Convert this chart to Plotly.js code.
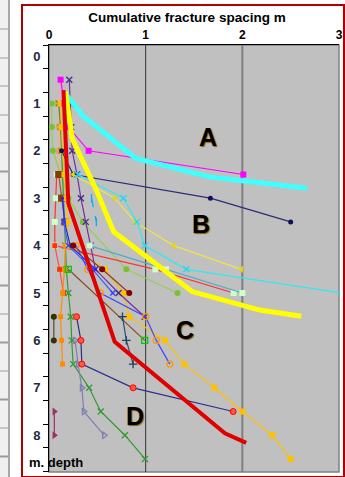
<!DOCTYPE html>
<html><head><meta charset="utf-8">
<script src="https://cdn.plot.ly/plotly-3.0.1.min.js"></script>
<style>
html,body{margin:0;padding:0;background:#fff;}
#wrap{position:relative;width:345px;height:477px;overflow:hidden;background:#fff;}
#sheet{position:absolute;left:0;top:0;width:8px;height:477px;background:repeating-linear-gradient(to bottom,#f0f0f0 0px,#f0f0f0 27px,#9c9c9c 27px,#9c9c9c 28.5px);background-position:0 1.5px;border-right:2px solid #a8a8a8;}
#frame{position:absolute;left:21px;top:4px;width:320px;height:470px;border:2px solid #b00000;background:#fff;}
#chart{position:absolute;left:0;top:0;width:345px;height:477px;}
</style></head>
<body>
<div id="wrap"><div id="sheet"></div><div id="frame"></div><div id="chart"></div></div>
<script>
// ---- data (x = cumulative fracture spacing m, d = depth m) ----
const xTickVals = [0, 1, 2, 3];
const xTickText = ['0', '1', '2', '3'];
const yTickVals = [0, 1, 2, 3, 4, 5, 6, 7, 8];
const yTickText = ['0', '1', '2', '3', '4', '5', '6', '7', '8'];

// thick envelope curves
const envA_x = [0.16, 0.36, 0.90, 1.66, 2.00, 2.67];
const envA_d = [0.77, 1.28, 2.16, 2.55, 2.63, 2.79];
const envB_x = [0.17, 0.24, 0.49, 0.67, 1.48, 2.18, 2.61];
const envB_d = [0.75, 1.74, 2.83, 3.71, 4.97, 5.36, 5.49];
const envC_x = [0.15, 0.20, 0.68, 1.82, 2.04];
const envC_d = [0.72, 3.11, 6.03, 7.96, 8.16];

// individual wells
const pink_x = [0.12, 0.11, 0.12, 0.13];
const pink_d = [0.5, 1.0, 1.5, 2.0];
const magenta_x = [0.12, 0.16, 0.20, 0.41, 2.01];
const magenta_d = [0.5, 1.0, 1.5, 2.0, 2.5];
const navy_x = [0.13, 0.25, 1.67, 2.50];
const navy_d = [2.0, 2.5, 3.0, 3.5];
const purple_x = [0.21, 0.22, 0.23, 0.24, 0.29, 0.33, 0.38, 0.43, 0.48, 0.72, 0.99];
const purple_d = [0.5, 1.0, 1.5, 2.0, 2.5, 3.0, 3.5, 4.0, 4.5, 5.0, 5.5];
const yellow_x = [0.25, 0.68, 0.89, 1.29, 1.99];
const yellow_d = [2.5, 3.0, 3.5, 4.0, 4.5];
const cyan_x = [0.30, 0.77, 0.91, 0.99, 1.42, 3.02];
const cyan_d = [2.5, 3.0, 3.5, 4.0, 4.5, 5.0];
const sky_x = [0.44, 0.49];
const sky_d = [3.0, 3.5];
const red_x = [0.08, 0.07, 0.06, 0.06, 1.10, 1.91];
const red_d = [2.5, 3.0, 3.5, 4.0, 4.5, 5.0];
const teal_x = [0.42, 1.21, 2.00];
const teal_d = [4.0, 4.5, 5.0];
const ygreen_x = [0.03, 0.03, 0.04, 0.12, 0.20, 0.35, 0.80, 1.33];
const ygreen_d = [1.0, 1.5, 2.0, 2.5, 3.0, 3.5, 4.5, 5.0];
const gold_x = [0.12, 0.13, 0.14, 0.16, 0.18, 0.19, 0.20, 0.58, 0.77, 0.83, 1.20, 1.40, 1.71, 2.00, 2.31, 2.50];
const gold_d = [1.0, 1.5, 2.0, 2.5, 3.0, 3.5, 4.0, 4.5, 5.0, 5.5, 6.0, 6.5, 7.0, 7.5, 8.0, 8.5];
const peach_x = [0.09, 0.10, 0.10, 0.11];
const peach_d = [1.0, 1.5, 2.0, 2.5];
const blueO_x = [0.28, 0.40, 0.53, 1.00, 1.11, 1.25];
const blueO_d = [4.0, 4.5, 5.0, 5.5, 6.0, 6.5];
const royal_x = [0.15, 0.20, 0.45, 0.66];
const royal_d = [3.5, 4.0, 4.5, 5.0];
const blue_x = [0.14, 0.16, 0.22, 0.48];
const blue_d = [3.0, 3.5, 4.0, 4.5];
const green_x = [0.10, 0.12, 0.13, 0.15, 0.17, 0.18, 0.20, 0.225, 0.235, 0.25, 0.415, 0.535, 0.785, 0.993];
const green_d = [1.0, 1.5, 2.0, 3.0, 4.0, 4.5, 5.0, 5.5, 6.0, 6.5, 7.0, 7.5, 8.0, 8.5];
const slate_x = [0.27, 0.30, 0.34, 0.36, 0.57];
const slate_d = [6.0, 6.5, 7.0, 7.5, 8.0];
const navyR_x = [0.285, 0.33, 0.34, 0.87, 1.905];
const navyR_d = [5.5, 6.0, 6.5, 7.0, 7.5];
const olive_x = [0.05, 0.05];
const olive_d = [5.5, 6.0];
const plum_x = [0.055, 0.055];
const plum_d = [7.5, 8.0];
const dorange_x = [0.17, 0.16, 0.14, 0.12, 0.13, 0.14];
const dorange_d = [4.0, 4.5, 5.0, 5.5, 6.0, 6.5];
const redsq_x = [0.06, 0.11, 0.15];
const redsq_d = [4.0, 4.5, 5.0];
const slateP_x = [0.76, 0.80, 0.87];
const slateP_d = [5.5, 6.0, 6.5];
const brown_x = [0.20, 0.99];
const brown_d = [4.5, 6.0];
const maroon_x = [0.25, 0.55, 0.83];
const maroon_d = [4.0, 4.5, 5.0];
const brownsq_x = [0.10, 0.13, 0.165];
const brownsq_d = [2.5, 3.0, 3.5];

function thin(x, d, color, sym, mcolor, size, dash) {
  const open = sym.indexOf('open') >= 0;
  return {
    x: x, y: d, type: 'scatter', mode: 'lines+markers',
    line: {color: color, width: 1.2, dash: dash || 'solid'},
    marker: {symbol: sym, size: size || 5, color: mcolor || color,
             line: {color: mcolor || color, width: open ? 1.3 : 0}},
    hoverinfo: 'skip'
  };
}
function thick(x, d, color, w) {
  return {x: x, y: d, type: 'scatter', mode: 'lines',
          line: {color: color, width: w}, hoverinfo: 'skip'};
}

const traces = [
  thin(pink_x, pink_d, '#ff99cc', 'square', '#ff99cc', 4),
  thin(peach_x, peach_d, '#f4b183', 'square', '#f79646', 5),
  thin(ygreen_x, ygreen_d, '#92d050', 'circle', '#7cc030', 6),
  thin(green_x, green_d, '#339933', 'x-thin-open', '#339933', 6),
  thin(red_x, red_d, '#ff3333', 'square', '#ccffcc', 6),
  thin(redsq_x, redsq_d, '#ff5050', 'square', '#ff3300', 5),
  thin(dorange_x, dorange_d, '#ff8c00', 'square', '#ff8c00', 5),
  thin(brownsq_x, brownsq_d, '#a0522d', 'square', '#843c0c', 7),
  thin(gold_x, gold_d, '#ffc000', 'square', '#ffc000', 6),
  thin(purple_x, purple_d, '#7030a0', 'x-thin-open', '#4b2a8a', 6),
  thin(blue_x, blue_d, '#2020ff', 'circle', '#2020ff', 3),
  thin(royal_x, royal_d, '#4060ff', 'x-thin-open', '#3040ff', 5),
  thin(blueO_x, blueO_d, '#4444ff', 'circle-open', '#ff9900', 6),
  thin(maroon_x, maroon_d, '#8b3a3a', 'circle', '#7f0000', 6),
  thin(brown_x, brown_d, '#8b4a2b', 'square-open', '#00cc00', 6),
  thin(teal_x, teal_d, '#4bacc6', 'square', '#ccffcc', 6),
  thin(sky_x, sky_d, '#00b0f0', 'line-ns-open', '#00b0f0', 6, 'dash'),
  thin(magenta_x, magenta_d, '#ff00ff', 'square', '#ff00ff', 6),
  thin(navy_x, navy_d, '#2b2b7a', 'circle', '#10105a', 5),
  thin(yellow_x, yellow_d, '#f2e24a', 'triangle-left', '#e8d800', 6),
  thin(cyan_x, cyan_d, '#30e8f0', 'x-thin-open', '#20d8f0', 6),
  thin(olive_x, olive_d, '#4d4d26', 'circle', '#333300', 6),
  thin(plum_x, plum_d, '#993366', 'triangle-right', '#993366', 7),
  thin(slate_x, slate_d, '#7f7fb2', 'triangle-right-open', '#8080b0', 6),
  thin(slateP_x, slateP_d, '#2f4f6f', 'cross-thin-open', '#1f3f5f', 6),
  thin(navyR_x, navyR_d, '#2e2e8a', 'circle', '#ff5a3c', 6),
  thick(envA_x, envA_d, '#40ffff', 5),
  thick(envB_x, envB_d, '#ffff00', 5),
  thick(envC_x, envC_d, '#e00000', 4)
];
// red outline for navy/red-circle markers
traces[traces.length - 4].marker.line = {color: '#ff0000', width: 1};

const boldF = 'Liberation Sans, Arial, sans-serif';
const letterFont = {family: boldF, size: 25, color: '#000', weight: 'bold', shadow: '1px 1px 1px #8a5a00'};
const layout = {
  width: 345, height: 477,
  margin: {l: 49, r: 6, t: 45, b: 5},
  paper_bgcolor: 'rgba(0,0,0,0)',
  plot_bgcolor: '#c0c0c0',
  showlegend: false,
  title: {text: 'Cumulative fracture spacing m',
          font: {family: boldF, size: 13.5, color: '#000', weight: 'bold'},
          x: 187 / 345, xref: 'container', xanchor: 'center',
          y: 1 - 17 / 477, yref: 'container', yanchor: 'middle'},
  xaxis: {range: [0, 3], side: 'top', tickmode: 'array', tickvals: xTickVals, ticktext: xTickText,
          showgrid: false, zeroline: false, showline: true, linecolor: '#000', linewidth: 1,
          ticks: '', tickfont: {family: boldF, size: 12, color: '#000', weight: 'bold'}, fixedrange: true},
  yaxis: {range: [8.776, -0.232], tickmode: 'array', tickvals: yTickVals, ticktext: yTickText,
          ticks: 'outside', ticklen: 5, tickcolor: 'rgba(0,0,0,0)',
          minor: {tickmode: 'linear', tick0: -0.232, dtick: 0.5, ticks: 'outside', ticklen: 5,
                  tickcolor: '#000', tickwidth: 1, showgrid: false},
          showgrid: false, zeroline: false, showline: true, linecolor: '#000', linewidth: 1,
          tickfont: {family: boldF, size: 13, color: '#1f2a44', weight: 'bold'}, fixedrange: true},
  shapes: [
    {type: 'rect', xref: 'paper', yref: 'paper', x0: 0, x1: 1, y0: 0, y1: 1,
     line: {color: '#808080', width: 1.5}, layer: 'below'},
    {type: 'line', xref: 'x', yref: 'paper', x0: 1, x1: 1, y0: 0, y1: 1,
     line: {color: '#333333', width: 1}, layer: 'below'},
    {type: 'line', xref: 'x', yref: 'paper', x0: 2, x1: 2, y0: 0, y1: 1,
     line: {color: '#7f7f7f', width: 2}, layer: 'below'}
  ],
  annotations: [
    {text: 'A', x: 1.64, y: 1.71, xref: 'x', yref: 'y', showarrow: false, font: letterFont},
    {text: 'B', x: 1.57, y: 3.54, xref: 'x', yref: 'y', showarrow: false, font: letterFont},
    {text: 'C', x: 1.41, y: 5.77, xref: 'x', yref: 'y', showarrow: false, font: letterFont},
    {text: 'D', x: 0.89, y: 7.59, xref: 'x', yref: 'y', showarrow: false, font: letterFont},
    {text: 'm. depth', x: (56 - 49) / 290, y: (477 - 5 - 462) / 427, xref: 'paper', yref: 'paper',
     xanchor: 'center', yanchor: 'middle', showarrow: false,
     font: {family: boldF, size: 13, color: '#000', weight: 'bold'}}
  ]
};

Plotly.newPlot('chart', traces, layout, {displayModeBar: false, staticPlot: true});
</script>
</body></html>
